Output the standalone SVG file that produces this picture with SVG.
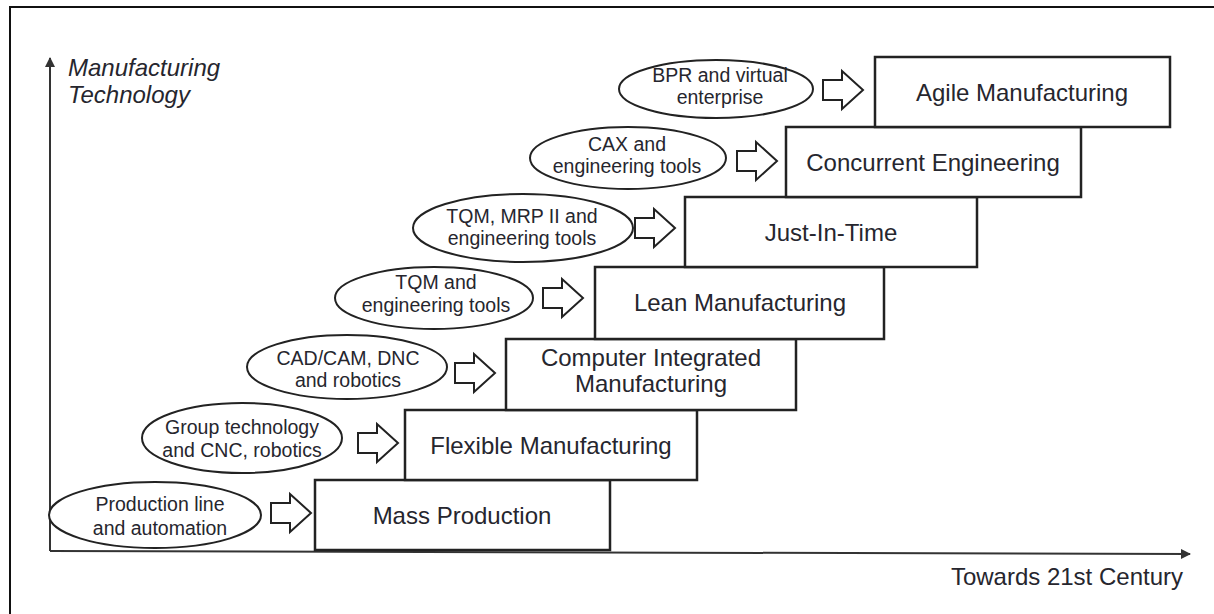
<svg xmlns="http://www.w3.org/2000/svg" width="1214" height="614" viewBox="0 0 1214 614">
  <style>
    .frame { fill: none; stroke: #111; stroke-width: 2; }
    .axis { fill: none; stroke: #333; stroke-width: 2; }
    .box { fill: #fff; stroke: #222; stroke-width: 2.5; }
    .oval { fill: #fff; stroke: #222; stroke-width: 2; }
    .push { fill: #fff; stroke: #222; stroke-width: 2; stroke-linejoin: miter; }
    .t { font-family: "Liberation Sans", Arial, sans-serif; fill: #26262e; text-anchor: middle; }
    .big { font-size: 24px; }
    .small { font-size: 19.5px; }
    .axislbl { font-family: "Liberation Sans", Arial, sans-serif; font-size: 24px; fill: #26262e; }
  </style>
  <defs>
    <marker id="tip" viewBox="0 0 10 10" refX="9" refY="5" markerWidth="5" markerHeight="5" orient="auto" markerUnits="strokeWidth">
      <path d="M0,0 L10,5 L0,10 Z" fill="#333"/>
    </marker>
    <!-- hollow block arrow, 40 wide, centred on y=0 -->
    <path id="block" d="M0,-10 H19 V-19 L40,0 L19,19 V10 H0 Z"/>
  </defs>

  <rect width="1214" height="614" fill="#fff"/>
  <path class="frame" d="M10,614 V7 H1214"/>

  <!-- axes -->
  <g id="axes">
    <line class="axis" x1="50" y1="551" x2="50" y2="58" marker-end="url(#tip)"/>
    <line class="axis" x1="50" y1="551" x2="1190" y2="554" marker-end="url(#tip)"/>
    <text class="axislbl" font-style="italic" x="68" y="76">Manufacturing</text>
    <text class="axislbl" font-style="italic" x="68" y="103">Technology</text>
    <text class="axislbl" x="1183" y="585" text-anchor="end">Towards 21st Century</text>
  </g>

  <!-- stair-step stages -->
  <g id="stage-mass">
    <rect class="box" x="315" y="480" width="295" height="70"/>
    <text class="t big" x="462" y="524">Mass Production</text>
  </g>
  <g id="stage-flexible">
    <rect class="box" x="405" y="410" width="292" height="70"/>
    <text class="t big" x="551" y="454">Flexible Manufacturing</text>
  </g>
  <g id="stage-cim">
    <rect class="box" x="506" y="339" width="290" height="71"/>
    <text class="t big" x="651" y="366">Computer Integrated</text>
    <text class="t big" x="651" y="392">Manufacturing</text>
  </g>
  <g id="stage-lean">
    <rect class="box" x="595" y="267" width="289" height="72"/>
    <text class="t big" x="740" y="311">Lean Manufacturing</text>
  </g>
  <g id="stage-jit">
    <rect class="box" x="685" y="197" width="292" height="70"/>
    <text class="t big" x="831" y="241">Just-In-Time</text>
  </g>
  <g id="stage-concurrent">
    <rect class="box" x="786" y="127" width="295" height="70"/>
    <text class="t big" x="933" y="171">Concurrent Engineering</text>
  </g>
  <g id="stage-agile">
    <rect class="box" x="875" y="57" width="295" height="70"/>
    <text class="t big" x="1022" y="101">Agile Manufacturing</text>
  </g>

  <!-- enablers -->
  <g id="enabler-production">
    <ellipse class="oval" cx="155" cy="515" rx="106" ry="33"/>
    <text class="t small" x="160" y="511">Production line</text>
    <text class="t small" x="160" y="535">and automation</text>
  </g>
  <g id="enabler-group">
    <ellipse class="oval" cx="242" cy="438" rx="100" ry="35"/>
    <text class="t small" x="242" y="434">Group technology</text>
    <text class="t small" x="242" y="457">and CNC, robotics</text>
  </g>
  <g id="enabler-cadcam">
    <ellipse class="oval" cx="347" cy="367" rx="100" ry="32"/>
    <text class="t small" x="348" y="365">CAD/CAM, DNC</text>
    <text class="t small" x="348" y="387">and robotics</text>
  </g>
  <g id="enabler-tqm">
    <ellipse class="oval" cx="434" cy="298" rx="99" ry="31"/>
    <text class="t small" x="436" y="289">TQM and</text>
    <text class="t small" x="436" y="312">engineering tools</text>
  </g>
  <g id="enabler-mrp">
    <ellipse class="oval" cx="523" cy="228" rx="110" ry="34"/>
    <text class="t small" x="522" y="223">TQM, MRP II and</text>
    <text class="t small" x="522" y="245">engineering tools</text>
  </g>
  <g id="enabler-cax">
    <ellipse class="oval" cx="628" cy="158" rx="98" ry="31"/>
    <text class="t small" x="627" y="151">CAX and</text>
    <text class="t small" x="627" y="173">engineering tools</text>
  </g>
  <g id="enabler-bpr">
    <ellipse class="oval" cx="716" cy="89" rx="97" ry="29"/>
    <text class="t small" x="720" y="82">BPR and virtual</text>
    <text class="t small" x="720" y="104">enterprise</text>
  </g>

  <!-- connectors: block arrows from each enabler to its stage -->
  <g id="connectors">
    <use href="#block" class="push" x="271" y="513"/>
    <use href="#block" class="push" x="358" y="443"/>
    <use href="#block" class="push" x="455" y="373"/>
    <use href="#block" class="push" x="543" y="298"/>
    <use href="#block" class="push" x="635" y="228"/>
    <use href="#block" class="push" x="737" y="161"/>
    <use href="#block" class="push" x="823" y="90"/>
  </g>
</svg>
